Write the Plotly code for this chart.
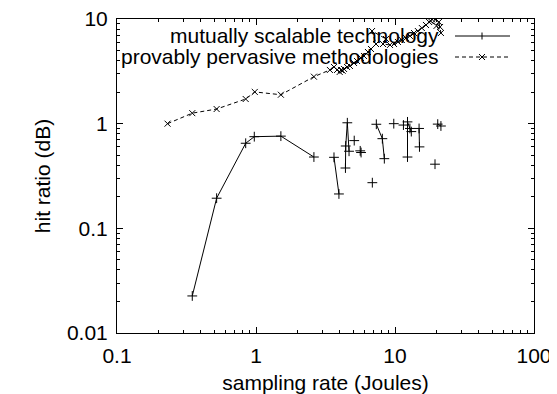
import plotly.graph_objects as go

# ---- data ----
s1_name = "mutually scalable technology"
s1_x = [0.348, 0.521, 0.843, 0.972, 1.51, 2.61, None,
        3.64, 3.95, None,
        4.40, 4.42, 4.54, 4.67, None,
        5.09, None,
        5.62, 5.70, None,
        6.87, None,
        7.34, 8.11, 8.38, None,
        9.8, None,
        11.5, None,
        12.3, 12.3, 12.8, 13.1, None,
        14.9, 15.0, None,
        19.4, None,
        20.3, 21.4]
s1_y = [0.0226, 0.194, 0.65, 0.751, 0.76, 0.48, None,
        0.477, 0.213, None,
        0.377, 0.612, 1.02, 0.545, None,
        0.689, None,
        0.55, 0.53, None,
        0.273, None,
        0.987, 0.719, 0.463, None,
        1.0, None,
        0.97, None,
        0.48, 1.04, 0.90, 0.84, None,
        0.90, 0.60, None,
        0.41, None,
        0.99, 0.95]

s2_name = "provably pervasive methodologies"
s2_x = [0.231, 0.348, 0.521, 0.843, 0.98, 1.51, 2.61, 3.40, 3.64, 3.83,
        4.00, 4.09, 4.20, 4.30, 4.52, 4.74, 5.07, 5.33, 5.69, 5.98,
        6.39, 6.72, 7.30, 6.84, 8.61, 8.20, 9.20, 9.84, 10.5, 11.2,
        12.0, 12.8, 13.7, 14.6, 15.6, 16.7, 17.6, 18.5, 19.7, 20.7,
        21.1, 21.4, 19.9, 18.0]
s2_y = [1.0, 1.26, 1.38, 1.72, 2.01, 1.89, 2.81, 3.26, 3.48, 3.26,
        3.12, 3.26, 3.20, 3.33, 3.48, 3.56, 3.80, 3.97, 4.24, 4.43,
        4.84, 5.17, 5.77, 7.68, 6.44, 5.77, 5.65, 5.77, 6.03, 6.30,
        6.59, 6.89, 7.35, 7.68, 8.20, 8.77, 9.36, 9.9, 9.9, 9.36,
        8.39, 7.35, 8.6, 9.6]

x_ticks = [0.1, 1, 10, 100]
x_tick_text = ["0.1", "1", "10", "100"]
y_ticks = [0.01, 0.1, 1, 10]
y_tick_text = ["0.01", "0.1", "1", "10"]

x_title = "sampling rate (Joules)"
y_title = "hit ratio (dB)"

FONT = "Liberation Sans, Arial, Helvetica, sans-serif"
FS = 21


def split_segments(xs, ys):
    segs, cx, cy = [], [], []
    for a, b in zip(xs, ys):
        if a is None or b is None:
            if cx:
                segs.append((cx, cy))
            cx, cy = [], []
        else:
            cx.append(a)
            cy.append(b)
    if cx:
        segs.append((cx, cy))
    return segs


fig = go.Figure()
for sx, sy in split_segments(s1_x, s1_y):
    fig.add_trace(go.Scatter(
        x=sx, y=sy, name=s1_name, mode="lines+markers",
        line=dict(color="black", width=1),
        marker=dict(symbol="cross-thin-open", size=7, color="black",
                    line=dict(color="black", width=1)),
        showlegend=False))
fig.add_trace(go.Scatter(
    x=s2_x, y=s2_y, name=s2_name, mode="lines+markers",
    line=dict(color="black", width=1, dash="4px,3px"),
    marker=dict(symbol="x-thin-open", size=6, color="black",
                line=dict(color="black", width=1)),
    showlegend=False))

axis_common = dict(
    type="log", showgrid=False, zeroline=False, automargin=False,
    showline=True, linecolor="black", linewidth=1, mirror="ticks",
    ticks="inside", ticklen=6, tickcolor="black", tickwidth=1,
    ticklabeloverflow="allow",
    tickfont=dict(family=FONT, size=FS, color="black"),
    minor=dict(ticks="inside", ticklen=3, tickcolor="black",
               dtick="D1", showgrid=False),
)
fig.update_xaxes(**axis_common, range=[-1, 2], tickvals=x_ticks,
                 ticktext=x_tick_text, ticklabelstandoff=4,
                 title=dict(text=x_title, font=dict(family=FONT, size=FS, color="black"),
                            standoff=23))
fig.update_yaxes(**axis_common, range=[-2, 1], tickvals=y_ticks,
                 ticktext=y_tick_text, ticklabelstandoff=4,
                 title=dict(text=y_title, font=dict(family=FONT, size=FS, color="black"),
                            standoff=10))

# ---- manual gnuplot-style legend (top right, text right-aligned) ----
# page coordinates of the plot area: x 117..534, y 19..333
W, H = 417.0, 314.0
L0, T0 = 117.0, 19.0
def px(xp):
    return (xp - L0) / W
def py(yp):
    return 1 - (yp - T0) / H

rows = [(s1_name, 36, "plus", None), (s2_name, 57, "x", "4px,3px")]
shapes = []
annotations = []
for name, yrow, mk, dash in rows:
    annotations.append(dict(xref="paper", yref="paper", x=px(441), y=py(yrow),
                            xanchor="right", yanchor="middle", showarrow=False,
                            text=name, font=dict(family=FONT, size=FS, color="black")))
    ln = dict(color="black", width=1)
    if dash:
        ln["dash"] = dash
    shapes.append(dict(type="line", xref="paper", yref="paper",
                       x0=px(455), x1=px(510), y0=py(yrow), y1=py(yrow), line=ln))
    if mk == "plus":
        shapes.append(dict(type="line", xref="paper", yref="paper",
                           x0=px(482), x1=px(482), y0=py(yrow - 3.5), y1=py(yrow + 3.5),
                           line=dict(color="black", width=1)))
    else:
        shapes.append(dict(type="line", xref="paper", yref="paper",
                           x0=px(479), x1=px(485), y0=py(yrow - 3), y1=py(yrow + 3),
                           line=dict(color="black", width=1)))
        shapes.append(dict(type="line", xref="paper", yref="paper",
                           x0=px(479), x1=px(485), y0=py(yrow + 3), y1=py(yrow - 3),
                           line=dict(color="black", width=1)))

# the page body has an 8px margin at top/left, so the figure is 8px smaller
fig.update_layout(
    width=549, height=386,
    margin=dict(l=109, r=23, t=11, b=61, pad=0),
    paper_bgcolor="white", plot_bgcolor="white",
    font=dict(family=FONT, size=FS, color="black"),
    shapes=shapes, annotations=annotations,
)

fig.write_html("out.html")
